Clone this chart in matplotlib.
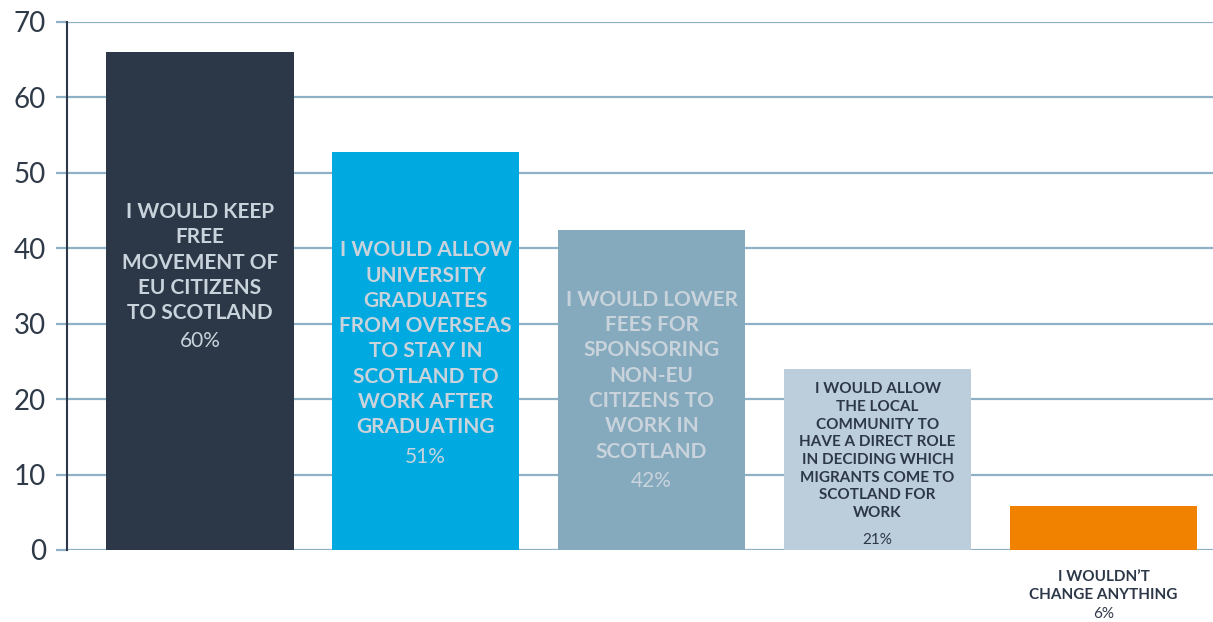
import matplotlib.pyplot as plt
import numpy as np

# survey answers, bar heights and the share printed on each bar
answers = [
    'I WOULD KEEP\nFREE\nMOVEMENT OF\nEU CITIZENS\nTO SCOTLAND',
    'I WOULD ALLOW\nUNIVERSITY\nGRADUATES\nFROM OVERSEAS\nTO STAY IN\nSCOTLAND TO\nWORK AFTER\nGRADUATING',
    'I WOULD LOWER\nFEES FOR\nSPONSORING\nNON-EU\nCITIZENS TO\nWORK IN\nSCOTLAND',
    'I WOULD ALLOW\nTHE LOCAL\nCOMMUNITY TO\nHAVE A DIRECT ROLE\nIN DECIDING WHICH\nMIGRANTS COME TO\nSCOTLAND FOR\nWORK',
    'I WOULDN\u2019T\nCHANGE ANYTHING',
]
heights = [66, 52.8, 42.4, 24.0, 5.8]
shares = ['60%', '51%', '42%', '21%', '6%']

colors = ['#2c3747', '#00a9e0', '#85a9bd', '#bccddb', '#f08200']
text_colors = ['#c9d3dc', '#c9d3dc', '#c9d3dc', '#2c3747', '#2c3747']
# vertical centres (data units) of the answer block and of the share
answer_y = [38.1, 28.0, 23.1, 13.1, -4.8]
share_y = [27.7, 12.3, 9.15, 1.3, -8.5]
label_size = [15, 15, 15, 11, 11]

plt.rcParams['font.family'] = ['Lato', 'DejaVu Sans']

fig = plt.figure(figsize=(12.13, 6.22), dpi=100)
ax = fig.add_axes([67 / 1213, 72 / 622, 1146 / 1213, 528 / 622])

x = np.arange(len(heights))
ax.bar(x, heights, width=0.83, color=colors, zorder=3)

ax.set_xlim(-0.588, 4.485)
ax.set_ylim(0, 70)
ax.set_yticks(range(0, 71, 10))
ax.yaxis.grid(True, color='#8eb1c6', linewidth=1.6, zorder=0)
ax.set_axisbelow(True)
ax.set_xticks([])
ax.tick_params(axis='y', length=8, width=1.6, color='#8eb1c6',
               labelsize=20, labelcolor='#2f3a48', pad=7)

for side in ['top', 'right', 'bottom']:
    ax.spines[side].set_visible(False)
ax.spines['left'].set_color('#2c3747')
ax.spines['left'].set_linewidth(1.5)
ax.spines['left'].set_zorder(4)

for i in range(len(heights)):
    ax.text(x[i], answer_y[i], answers[i], ha='center', va='center',
            fontsize=label_size[i], fontweight='bold', color=text_colors[i],
            linespacing=1.33, zorder=5, clip_on=False)
    ax.text(x[i], share_y[i], shares[i], ha='center', va='center',
            fontsize=label_size[i], color=text_colors[i],
            zorder=5, clip_on=False)

fig.savefig('out.png', dpi=100)
